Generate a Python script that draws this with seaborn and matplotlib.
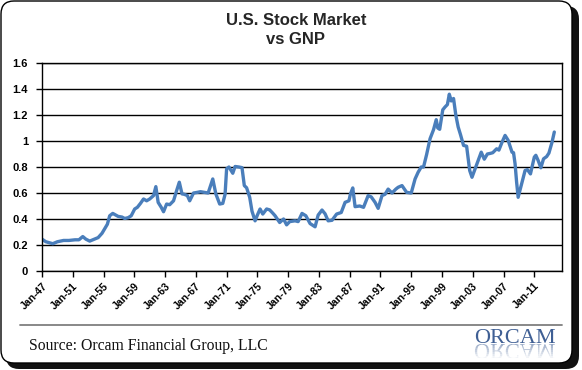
import numpy as np
import pandas as pd
import matplotlib
matplotlib.use("Agg")
import matplotlib.pyplot as plt
import seaborn as sns
from matplotlib.patches import FancyBboxPatch, PathPatch, Rectangle
from matplotlib.lines import Line2D
from matplotlib.textpath import TextPath
from matplotlib.font_manager import FontProperties
from matplotlib.transforms import Affine2D

# market cap / GNP ratio (decimal years)
years = [1947.0, 1947.5, 1948.4, 1949.0, 1949.8, 1950.5, 1951.3, 1951.8, 1952.3, 1952.7,
         1953.2, 1953.8, 1954.3, 1954.8, 1955.1, 1955.5, 1955.8, 1956.2, 1956.9, 1957.4,
         1957.75, 1958.2, 1958.6, 1959.05, 1959.4, 1959.8, 1960.2, 1960.6, 1961.0, 1961.5,
         1961.8, 1962.1, 1962.5, 1962.8, 1963.2, 1963.6, 1964.1, 1964.5, 1964.85, 1965.2,
         1965.5, 1965.9, 1966.2, 1966.7, 1967.2, 1967.6, 1968.1, 1968.6, 1969.2, 1969.6,
         1970.1, 1970.5, 1970.8, 1971.0, 1971.3, 1971.8, 1972.1, 1972.6, 1973.0, 1973.3,
         1973.6, 1974.0, 1974.3, 1974.7, 1975.0, 1975.35, 1975.7, 1976.2, 1976.6, 1977.0,
         1977.3, 1977.9, 1978.4, 1978.8, 1979.2, 1979.9, 1980.3, 1980.8, 1981.3, 1981.85,
         1982.5, 1982.9, 1983.4, 1983.8, 1984.2, 1984.7, 1985.3, 1985.9, 1986.4, 1986.9,
         1987.1, 1987.4, 1987.7, 1988.3, 1988.8, 1989.4, 1989.8, 1990.3, 1990.7, 1991.2,
         1991.6, 1992.0, 1992.5, 1993.0, 1993.3, 1993.8, 1994.4, 1995.0, 1995.5, 1995.9,
         1996.3, 1996.6, 1997.0, 1997.45, 1997.9, 1998.25, 1998.45, 1998.7, 1999.1, 1999.4,
         1999.7, 1999.95, 2000.2, 2000.5, 2000.8, 2001.1, 2001.4, 2001.8, 2002.2, 2002.6,
         2002.9, 2003.3, 2003.7, 2004.1, 2004.5, 2004.9, 2005.3, 2005.6, 2006.1, 2006.4,
         2006.8, 2007.2, 2007.6, 2008.1, 2008.3, 2008.5, 2008.7, 2008.9, 2009.4, 2009.8,
         2010.1, 2010.5, 2011.0, 2011.2, 2011.5, 2011.85, 2012.2, 2012.6, 2012.9, 2013.3,
         2013.6]
ratio = [0.245, 0.225, 0.21, 0.225, 0.235, 0.235, 0.24, 0.24, 0.265, 0.245,
         0.23, 0.245, 0.257, 0.29, 0.32, 0.36, 0.425, 0.443, 0.42, 0.415,
         0.404, 0.41, 0.425, 0.477, 0.49, 0.52, 0.554, 0.54, 0.554, 0.58,
         0.649, 0.528, 0.49, 0.456, 0.515, 0.51, 0.54, 0.618, 0.683, 0.593,
         0.59, 0.58, 0.54, 0.60, 0.605, 0.61, 0.605, 0.60, 0.708, 0.593,
         0.515, 0.52, 0.59, 0.786, 0.80, 0.752, 0.804, 0.80, 0.795, 0.657,
         0.64, 0.567, 0.46, 0.386, 0.43, 0.477, 0.438, 0.477, 0.47, 0.445,
         0.425, 0.373, 0.40, 0.355, 0.38, 0.386, 0.38, 0.443, 0.425, 0.365,
         0.34, 0.43, 0.469, 0.44, 0.386, 0.39, 0.438, 0.45, 0.528, 0.54,
         0.593, 0.639, 0.495, 0.50, 0.49, 0.58, 0.57, 0.528, 0.482, 0.58,
         0.59, 0.63, 0.60, 0.63, 0.644, 0.657, 0.605, 0.60, 0.708, 0.76,
         0.80, 0.80, 0.896, 1.018, 1.087, 1.164, 1.10, 1.09, 1.24, 1.262,
         1.28, 1.36, 1.308, 1.327, 1.198, 1.108, 1.05, 0.966, 0.96, 0.773,
         0.721, 0.786, 0.85, 0.914, 0.86, 0.90, 0.905, 0.91, 0.94, 0.93,
         0.99, 1.043, 1.005, 0.914, 0.91, 0.824, 0.683, 0.567, 0.683, 0.773,
         0.78, 0.747, 0.876, 0.89, 0.85, 0.794, 0.863, 0.88, 0.907, 0.99,
         1.069]

tick_years = list(range(1947, 2012, 4))
tick_labels = ["Jan-%02d" % (y % 100) for y in tick_years]
y_ticks = [0, 0.2, 0.4, 0.6, 0.8, 1.0, 1.2, 1.4, 1.6]
y_labels = ["0", "0.2", "0.4", "0.6", "0.8", "1", "1.2", "1.4", "1.6"]

title_lines = ["U.S. Stock Market", "vs GNP"]
source = "Source: Orcam Financial Group, LLC"

df = pd.DataFrame({"year": years, "ratio": ratio})

sns.set_style("white")
plt.rcParams["font.family"] = ["Liberation Sans", "DejaVu Sans"]

W, H = 582, 370
fig = plt.figure(figsize=(W / 100, H / 100), dpi=100)
fig.patch.set_facecolor("white")
# pixel coords, y downward (like the image)
px = Affine2D().scale(1 / W, -1 / H).translate(0, 1) + fig.transFigure

# outer rounded frame with shadow
fig.add_artist(FancyBboxPatch((6, 6), 573, 363, boxstyle="round,pad=0,rounding_size=13",
                              transform=px, facecolor="#111111", edgecolor="none", zorder=-3))
fig.add_artist(FancyBboxPatch((1, 1), 571, 362, boxstyle="round,pad=0,rounding_size=13",
                              transform=px, facecolor="white", edgecolor="black", lw=1.0, zorder=-2))

ax = fig.add_axes([42 / W, 1 - 271 / H, (562 - 42) / W, (271 - 63) / H])
sns.lineplot(data=df, x="year", y="ratio", ax=ax, color="#4A7EBB", linewidth=2.4)

ax.set_xlim(1947, 2014.6)
ax.set_ylim(0, 1.6)
ax.set_xticks(tick_years)
ax.set_xticklabels(tick_labels, rotation=45, ha="right", rotation_mode="anchor",
                   fontsize=7.5, fontweight="bold")
ax.set_yticks(y_ticks)
ax.set_yticklabels(y_labels, fontsize=8, fontweight="bold")
ax.set_xlabel("")
ax.set_ylabel("")
ax.tick_params(axis="both", bottom=True, left=True, direction="out", length=4,
               width=1, color="black", labelcolor="black")
ax.tick_params(axis="x", pad=3)
ax.tick_params(axis="y", pad=6)
ax.grid(axis="y", color="black", linewidth=1.0)
ax.grid(axis="x", visible=False)
ax.set_axisbelow(True)
for s in ax.spines.values():
    s.set_color("black")
    s.set_linewidth(1.0)

# title
fig.text(296, 20.5, title_lines[0], transform=px, ha="center", va="center",
         fontsize=12, fontweight="bold")
fig.text(296, 39, title_lines[1], transform=px, ha="center", va="center",
         fontsize=12, fontweight="bold")

# footer
fig.add_artist(Line2D([20, 562], [325, 325], transform=px, color="#7f7f7f", lw=1.3))
fig.text(29, 349.5, source, transform=px, ha="left", va="baseline",
         fontsize=11.3, family=["Liberation Serif", "DejaVu Serif"], color="#111111")

# ORCAM logo + faded reflection
logo_col = "#3f5f94"
logo_size = 16
fig.text(474, 343, "ORCAM", transform=px, ha="left", va="baseline", fontsize=logo_size,
         family=["Liberation Serif", "DejaVu Serif"], color=logo_col)
tp = TextPath((0, 0), "ORCAM", size=logo_size * 100 / 72,
              prop=FontProperties(family="Liberation Serif"))
for i in range(7):
    strip = Rectangle((470, 344 + 2 * i), 100, 2, transform=px)
    pp = PathPatch(tp, transform=Affine2D().translate(474, 344) + px,
                   facecolor=logo_col, edgecolor="none", alpha=0.5 * (1 - i / 7))
    pp.set_clip_path(strip)
    fig.add_artist(pp)

fig.savefig("out.png", dpi=100)
